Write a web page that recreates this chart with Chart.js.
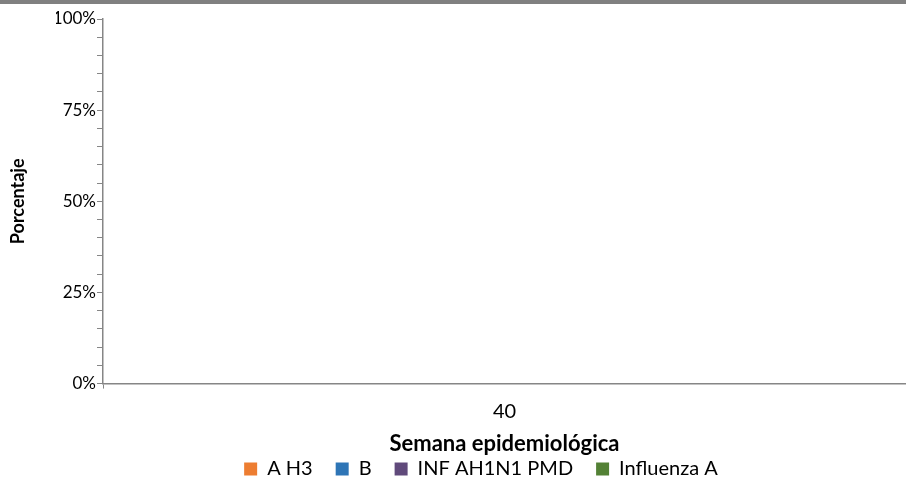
<!DOCTYPE html>
<html>
<head>
<meta charset="utf-8">
<script src="https://cdn.jsdelivr.net/npm/chart.js@4.4.1/dist/chart.umd.min.js"></script>
<style>
  html, body { margin: 0; padding: 0; background: #fff; }
  #wrap { width: 906px; height: 477px; position: relative; }
</style>
</head>
<body>
<div id="wrap"><canvas id="chart"></canvas></div>
<script>
'use strict';

// semanas epidemiologicas
var weeks = ['40'];
var seriesNames = ['A H3', 'B', 'INF AH1N1 PMD', 'Influenza A'];
var seriesColors = ['#ED7D31', '#2E75B6', '#604A7B', '#538135'];

// casos por semana (no hay datos en la semana 40)
var aH3 = [0];
var fluB = [0];
var infAH1N1 = [0];
var influenzaA = [0];

var yMajorTicks = [0, 25, 50, 75, 100];

var FONT = 'Lato, "Open Sans", sans-serif';
var AXIS_GREY = '#868686';

var toPercent = function(all) {
  return all.map(function(serie) {
    return serie.map(function(v, i) {
      var total = all.reduce(function(s, arr) { return s + (arr[i] || 0); }, 0);
      return total ? v / total * 100 : 0;
    });
  });
};

var pct = toPercent([aH3, fluB, infAH1N1, influenzaA]);

var datasets = seriesNames.map(function(name, i) {
  return {
    label: name,
    data: pct[i],
    backgroundColor: seriesColors[i],
    borderWidth: 0,
    barPercentage: 0.6,
    categoryPercentage: 1
  };
});

var topBar = {
  id: 'topBar',
  beforeDraw: function(chart) {
    var ctx = chart.ctx;
    ctx.save();
    ctx.fillStyle = '#ffffff';
    ctx.fillRect(0, 0, chart.width, chart.height);
    ctx.fillStyle = '#808080';
    ctx.fillRect(0, 0, chart.width, 4);
    ctx.restore();
  }
};

new Chart(document.getElementById('chart'), {
  type: 'bar',
  data: { labels: weeks, datasets: datasets },
  plugins: [topBar],
  options: {
    responsive: true,
    maintainAspectRatio: false,
    animation: false,
    // left padding only moves the legend; the y axis width makes up for it
    layout: { padding: { top: 19, right: 0, bottom: -12, left: 56 } },
    plugins: {
      tooltip: { enabled: false },
      legend: {
        position: 'bottom',
        labels: {
          boxWidth: 13,
          boxHeight: 13,
          padding: 23,
          color: '#000',
          font: { family: FONT, size: 20 }
        }
      }
    },
    scales: {
      x: {
        stacked: true,
        offset: true,
        grid: {
          display: true,
          offset: true,
          drawOnChartArea: false,
          tickLength: 5,
          color: AXIS_GREY
        },
        border: { display: true, color: AXIS_GREY, width: 1.5 },
        ticks: { color: '#000', padding: 11, font: { family: FONT, size: 20 } },
        title: {
          display: true,
          text: 'Semana epidemiológica',
          color: '#000',
          font: { family: FONT, size: 22, weight: 'bold' },
          padding: { top: -4, bottom: -21 }
        }
      },
      y: {
        stacked: true,
        min: 0,
        max: 100,
        afterFit: function(scale) { scale.width = 47; },
        afterBuildTicks: function(scale) {
          var t = [];
          for (var v = 0; v <= 100; v += 5) t.push({ value: v });
          scale.ticks = t;
        },
        grid: {
          display: true,
          drawOnChartArea: false,
          tickLength: 6,
          color: AXIS_GREY
        },
        border: { display: true, color: AXIS_GREY, width: 1.5 },
        ticks: {
          autoSkip: false,
          color: '#000',
          padding: 1,
          font: { family: FONT, size: 17 },
          callback: function(value) {
            return yMajorTicks.indexOf(value) >= 0 ? value + '%' : '';
          }
        },
        title: {
          display: true,
          text: 'Porcentaje',
          color: '#000',
          font: { family: FONT, size: 18, weight: 'bold' },
          padding: { top: -49, bottom: 0 }
        }
      }
    }
  }
});
</script>
</body>
</html>
